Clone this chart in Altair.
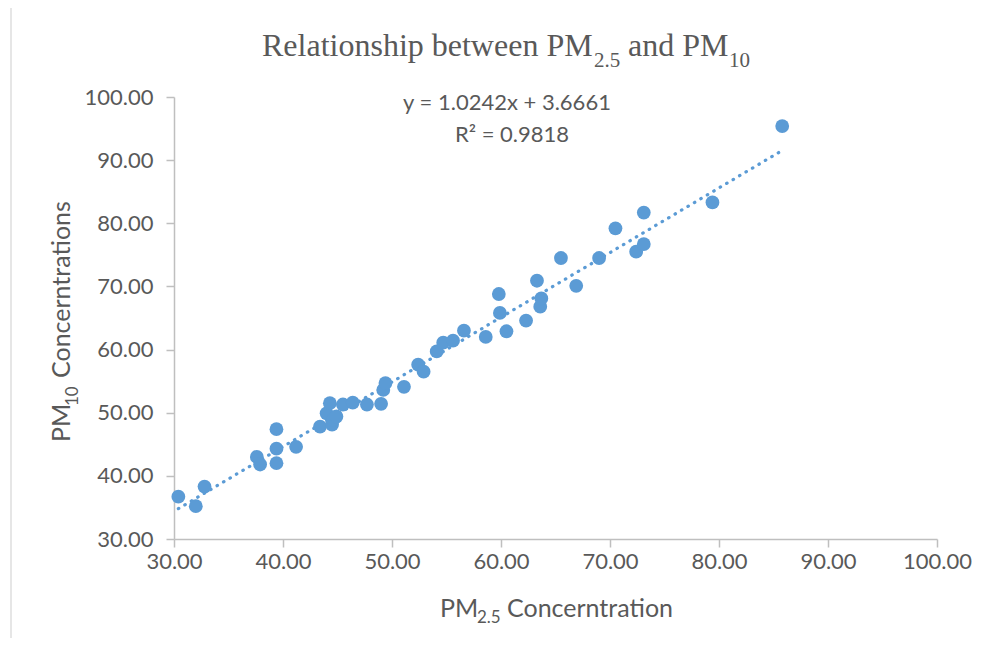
import altair as alt
import pandas as pd

# ---- data ----
pm25 = [30.4, 32.0, 32.8, 37.6, 37.9, 39.4, 39.4, 39.4, 41.2, 43.4,
        44.0, 44.3, 44.5, 44.6, 44.9, 45.5, 46.4, 47.7, 49.0, 49.2,
        49.4, 51.1, 52.4, 52.9, 54.1, 54.7, 55.6, 56.6, 58.6, 59.8,
        59.9, 60.5, 62.3, 63.6, 63.7, 63.3, 65.5, 66.9, 69.0, 70.5,
        72.4, 73.1, 73.1, 79.4, 85.8]
pm10 = [36.7, 35.2, 38.3, 43.0, 41.8, 47.4, 44.3, 42.0, 44.6, 47.8,
        49.9, 51.5, 48.1, 48.9, 49.4, 51.3, 51.6, 51.3, 51.4, 53.6,
        54.7, 54.1, 57.6, 56.5, 59.7, 61.1, 61.4, 63.0, 62.0, 68.8,
        65.8, 62.9, 64.6, 66.8, 68.1, 70.9, 74.5, 70.1, 74.5, 79.2,
        75.5, 76.7, 81.7, 83.3, 95.4]
slope = 1.0242
intercept = 3.6661
r_squared = 0.9818
x_ticks = [30, 40, 50, 60, 70, 80, 90, 100]
y_ticks = [30, 40, 50, 60, 70, 80, 90, 100]

title_main = "Relationship between PM"
title_sub1 = "2.5"
title_mid = "and PM"
title_sub2 = "10"
x_title = ["PM", "2.5", "Concerntration"]
y_title = ["PM", "10", "Concerntrations"]
eq_line1 = f"y = {slope}x + {intercept}"
eq_line2 = f"R² = {r_squared}"

BLUE = "#5B9BD5"
GREY_TXT = "#595959"
AXIS_GREY = "#BFBFBF"
SANS = "Lato"
SERIF = "Liberation Serif"

df = pd.DataFrame({"pm25": pm25, "pm10": pm10})
xmin, xmax = min(pm25), max(pm25)
trend = pd.DataFrame({"pm25": [xmin, xmax],
                      "pm10": [slope * xmin + intercept, slope * xmax + intercept]})

xscale = alt.Scale(domain=[30, 100], nice=False, zero=False)
yscale = alt.Scale(domain=[30, 100], nice=False, zero=False)

common_axis = dict(grid=False, title=None, format=".2f", domainColor=AXIS_GREY,
                   domainWidth=1.5, tickColor=AXIS_GREY, tickWidth=1.5, tickSize=8,
                   labelFont=SANS, labelFontSize=22, labelColor=GREY_TXT,
                   labelFlush=False, labelOverlap=False, labelBound=False)

xaxis = alt.Axis(values=x_ticks, labelPadding=4, **common_axis)
yaxis = alt.Axis(values=y_ticks, labelPadding=13, **common_axis)

dummy = alt.Data(values=[{}])

frame = alt.Chart(dummy).mark_rect(fillOpacity=0, stroke="#D9D9D9", strokeWidth=1.3).encode(
    x=alt.value(-163), x2=alt.value(900), y=alt.value(-90), y2=alt.value(700))

trend_line = alt.Chart(trend).mark_line(
    color=BLUE, strokeWidth=3.2, strokeDash=[0.5, 7], strokeCap="round").encode(
    x=alt.X("pm25:Q", scale=xscale, axis=xaxis),
    y=alt.Y("pm10:Q", scale=yscale, axis=yaxis))

points = alt.Chart(df).mark_circle(size=190, color=BLUE, opacity=1).encode(
    x=alt.X("pm25:Q", scale=xscale, axis=xaxis),
    y=alt.Y("pm10:Q", scale=yscale, axis=yaxis))


def txt(text, x, y, size, font=SANS, align="left", baseline="alphabetic", angle=0, dy=0):
    kw = dict(font=font, fontSize=size, color=GREY_TXT, align=align, baseline=baseline)
    if angle:
        kw["angle"] = angle
    if dy:
        kw["dy"] = dy
    return alt.Chart(dummy).mark_text(**kw).encode(
        x=alt.value(x), y=alt.value(y), text=alt.value(text))


texts = [
    # chart title
    txt(title_main, 88, -41, 32, font=SERIF),
    txt(title_sub1, 420, -30, 21, font=SERIF),
    txt(title_mid, 454, -41, 32, font=SERIF),
    txt(title_sub2, 555, -30, 21, font=SERIF),
    # equation
    txt(eq_line1, 333, 6, 22, align="center", baseline="middle"),
    txt(eq_line2, 338, 38, 22, align="center", baseline="middle"),
    # x title
    txt(x_title[0], 266, 520, 25),
    txt(x_title[1], 303, 526, 17),
    txt(x_title[2], 333, 520, 25),
    # y title (rotated)
    txt(y_title[0], -104, 345, 25, angle=270),
    txt(y_title[1], -104, 309, 17, angle=270, dy=8),
    txt(y_title[2], -104, 281, 25, angle=270),
]

chart = alt.layer(frame, trend_line, points, *texts).properties(
    width=763, height=442,
    autosize=alt.AutoSizeParams(type="none"),
    padding={"left": 166, "top": 89, "right": 41, "bottom": 99},
).configure_view(stroke=None)

chart.save("out.html", embed_options={"renderer": "svg", "actions": False})
